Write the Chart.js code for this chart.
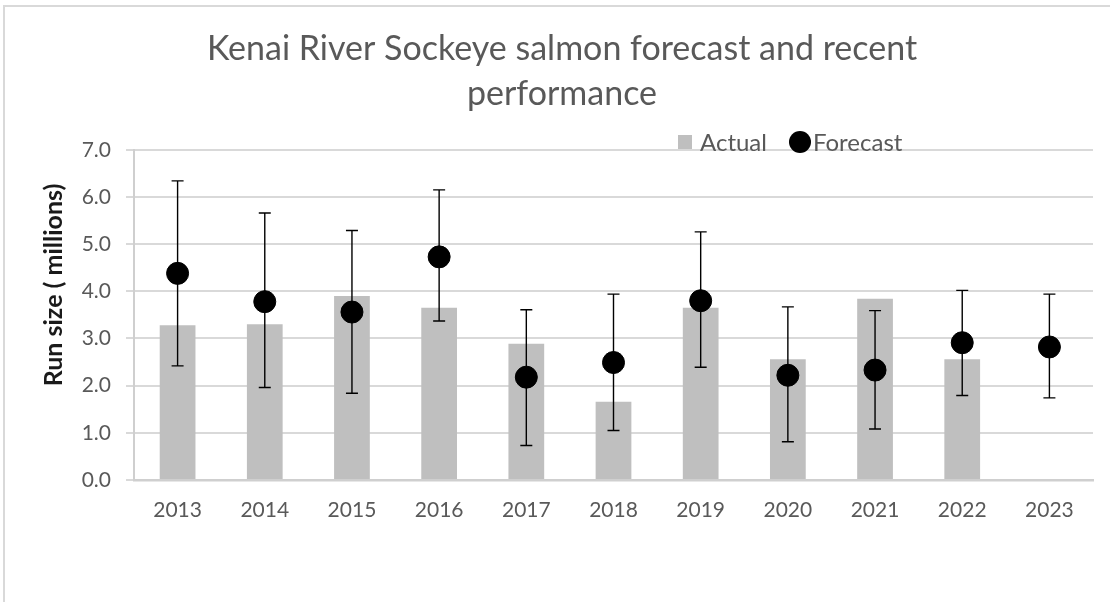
<!DOCTYPE html>
<html>
<head>
<meta charset="utf-8">
<script src="https://cdn.jsdelivr.net/npm/chart.js@4"></script>
<style>
  body { margin: 0; background: #fff; overflow: hidden; }
  #wrap { position: relative; width: 1110px; height: 602px; }
  #frame { position: absolute; left: 3px; top: 5px; width: 1200px; height: 700px;
           border-left: 2px solid #d9d9d9; border-top: 2px solid #d9d9d9; }
  #yTitle { position: absolute; left: 52px; top: 285px; transform: translate(-50%, -50%) rotate(-90deg);
            font: bold 25px Lato, sans-serif; color: #1a1a1a; white-space: nowrap; }
  #legend { position: absolute; left: 678px; top: 127px; font: 24px Lato, sans-serif; color: #595959;
            display: flex; align-items: center; white-space: nowrap; }
  .sq { width: 14px; height: 14px; background: #bfbfbf; margin-right: 8px; }
  .dot { width: 22px; height: 22px; border-radius: 50%; background: #000; margin-left: 22px; margin-right: 2px; }
</style>
</head>
<body>
<div id="wrap">
  <div id="frame"></div>
  <canvas id="salmonChart"></canvas>
  <div id="yTitle">Run size ( millions)</div>
  <div id="legend"><div class="sq"></div><span>Actual</span><div class="dot"></div><span>Forecast</span></div>
</div>
<script>
// Data (millions of fish)
const years = ['2013', '2014', '2015', '2016', '2017', '2018', '2019', '2020', '2021', '2022', '2023'];
const actual = [3.28, 3.30, 3.90, 3.65, 2.89, 1.66, 3.65, 2.56, 3.84, 2.56, null];
const forecast = [4.38, 3.78, 3.56, 4.73, 2.18, 2.49, 3.80, 2.22, 2.33, 2.91, 2.82];
const rangeLow = [2.42, 1.96, 1.84, 3.37, 0.73, 1.05, 2.39, 0.81, 1.08, 1.79, 1.74];
const rangeHigh = [6.34, 5.66, 5.29, 6.15, 3.61, 3.94, 5.26, 3.67, 3.59, 4.02, 3.94];
const yTicks = [0, 1, 2, 3, 4, 5, 6, 7];

// Draws the forecast range whiskers
const errorBars = {
  id: 'errorBars',
  afterDatasetsDraw(chart) {
    const meta = chart.getDatasetMeta(1);
    const yScale = chart.scales.y;
    const ctx = chart.ctx;
    ctx.save();
    ctx.strokeStyle = '#000';
    ctx.lineWidth = 1.4;
    meta.data.forEach((pt, i) => {
      const top = yScale.getPixelForValue(rangeHigh[i]);
      const bot = yScale.getPixelForValue(rangeLow[i]);
      ctx.beginPath();
      ctx.moveTo(pt.x, top);
      ctx.lineTo(pt.x, bot);
      ctx.moveTo(pt.x - 6, top);
      ctx.lineTo(pt.x + 6, top);
      ctx.moveTo(pt.x - 6, bot);
      ctx.lineTo(pt.x + 6, bot);
      ctx.stroke();
    });
    ctx.restore();
  }
};

const ctx = document.getElementById('salmonChart').getContext('2d');
new Chart(ctx, {
  data: {
    labels: years,
    datasets: [
      {
        type: 'bar',
        label: 'Actual',
        data: actual,
        backgroundColor: '#bfbfbf',
        categoryPercentage: 1,
        barPercentage: 0.41,
        order: 2
      },
      {
        type: 'line',
        label: 'Forecast',
        data: forecast,
        showLine: false,
        pointRadius: 11,
        pointBackgroundColor: '#000',
        pointBorderColor: '#000',
        order: 1
      }
    ]
  },
  options: {
    responsive: true,
    maintainAspectRatio: false,
    animation: false,
    layout: { padding: { left: 31, right: 17, top: 0, bottom: 72 } },
    plugins: {
      legend: { display: false },
      tooltip: { enabled: false },
      title: {
        display: true,
        text: ['Kenai River Sockeye salmon forecast and recent', 'performance'],
        color: '#595959',
        font: { family: 'Lato', size: 34, weight: 'normal', lineHeight: 1.32 },
        padding: { top: 27, bottom: 33 }
      }
    },
    scales: {
      x: {
        grid: { display: false, drawTicks: false },
        border: { display: true, color: '#cfcfcf', width: 2.5 },
        ticks: { color: '#595959', font: { family: 'Lato', size: 21 }, padding: 18 },
        afterFit(scale) { scale.height = 50; }
      },
      y: {
        min: 0,
        max: 7,
        afterBuildTicks(scale) { scale.ticks = yTicks.map(v => ({ value: v })); },
        grid: { color: '#d9d9d9', lineWidth: 2, tickLength: 8 },
        border: { display: true, color: '#cfcfcf', width: 2 },
        ticks: {
          color: '#595959',
          font: { family: 'Lato', size: 21 },
          padding: 15,
          callback: v => v.toFixed(1)
        },
        afterFit(scale) { scale.width = 103; }
      }
    }
  },
  plugins: [errorBars]
});
</script>
</body>
</html>
